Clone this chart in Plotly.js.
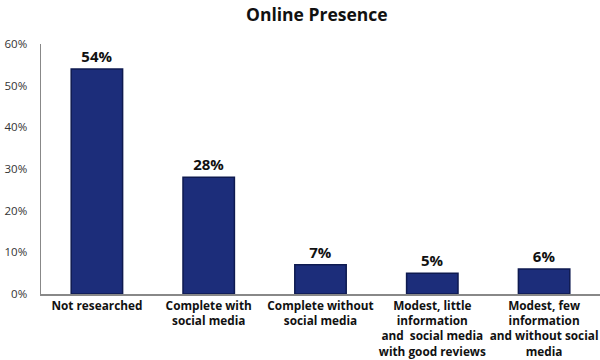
<!DOCTYPE html>
<html><head><meta charset="utf-8">
<script src="https://cdn.plot.ly/plotly-3.0.1.min.js"></script>
<style>body{margin:0;background:#fff}#chart{width:600px;height:360px}</style>
</head><body><div id="chart"></div>
<script>
const categories = [
  "Not researched",
  "Complete with<br>social media",
  "Complete without<br>social media",
  "Modest, little<br>information<br>and  social media<br>with good reviews",
  "Modest, few<br>information<br>and without social<br>media"
];
const values = [54, 28, 7, 5, 6];
const valueLabels = ["54%", "28%", "7%", "5%", "6%"];
const yTickVals = [0, 10, 20, 30, 40, 50, 60];
const yTickText = ["0%", "10%", "20%", "30%", "40%", "50%", "60%"];

Plotly.newPlot("chart", [{
  type: "bar",
  x: categories,
  y: values,
  text: valueLabels,
  textposition: "outside",
  cliponaxis: false,
  textfont: {family: "Open Sans, sans-serif", size: 15, color: "#111", weight: 700},
  marker: {color: "#1c2d7a", line: {color: "#0e1a50", width: 1.5}},
  width: 0.46,
  hoverinfo: "none"
}], {
  width: 600, height: 360,
  margin: {l: 41, r: 0, t: 44, b: 66},
  paper_bgcolor: "#fff", plot_bgcolor: "#fff",
  title: {text: "<b>Online Presence</b>", x: 0.528, xanchor: "center", y: 0.975, yanchor: "top",
          font: {family: "Open Sans, sans-serif", size: 17.5, color: "#111"}},
  xaxis: {
    showgrid: false, showline: true, linecolor: "#888", linewidth: 1.5,
    ticks: "", tickfont: {family: "Open Sans, sans-serif", size: 11.8, color: "#111", weight: 700},
    tickangle: 0, automargin: false
  },
  yaxis: {
    range: [0, 60], tickvals: yTickVals, ticktext: yTickText,
    showgrid: false, zeroline: false, showline: true, linecolor: "#888", linewidth: 1.5,
    ticks: "", ticklabelstandoff: 10,
    tickfont: {family: "Open Sans, sans-serif", size: 11.5, color: "#333"},
    automargin: false
  },
  showlegend: false
}, {displayModeBar: false, staticPlot: true});
</script></body></html>
